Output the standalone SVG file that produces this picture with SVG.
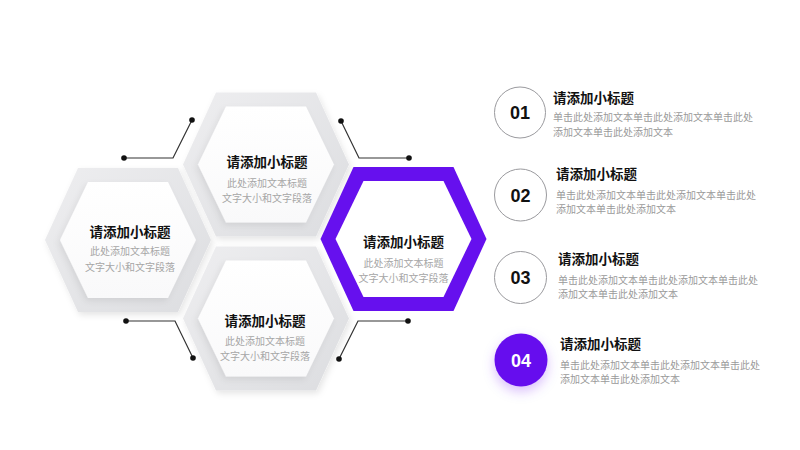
<svg xmlns="http://www.w3.org/2000/svg" xmlns:xlink="http://www.w3.org/1999/xlink" width="800" height="450" viewBox="0 0 800 450">
  <defs>
    <linearGradient id="ringGrad" x1="0" y1="0" x2="1" y2="1">
      <stop offset="0" stop-color="#eeeef0"/>
      <stop offset="1" stop-color="#dcdde0"/>
    </linearGradient>
    <linearGradient id="innerGrad" x1="0" y1="0" x2="0" y2="1">
      <stop offset="0" stop-color="#ffffff"/>
      <stop offset="1" stop-color="#f9f9fa"/>
    </linearGradient>
    <filter id="hexShadow" x="-20%" y="-20%" width="140%" height="140%">
      <feDropShadow dx="2" dy="3" stdDeviation="3" flood-color="#000" flood-opacity="0.10"/>
    </filter>
    <filter id="innerShadow" x="-20%" y="-20%" width="140%" height="140%">
      <feDropShadow dx="-2" dy="3" stdDeviation="3" flood-color="#000" flood-opacity="0.08"/>
    </filter>
    <filter id="glow" x="-60%" y="-60%" width="220%" height="220%">
      <feDropShadow dx="0" dy="5" stdDeviation="6" flood-color="#6610ee" flood-opacity="0.25"/>
    </filter>
    <path id="hexOuter" d="M-83,0 L-50,-72 L50,-72 L83,0 L50,72 L-50,72 Z"/>
    <path id="hexInner" d="M-68,0 L-40,-58 L40,-58 L68,0 L40,58 L-40,58 Z"/>
    <style>
      .cjk { font-family: "Noto Sans CJK SC", "Noto Sans", sans-serif; }
      .htitle { font-size: 13.5px; font-weight: bold; fill: #111; text-anchor: middle; }
      .hsub { font-size: 10px; fill: #a6a6a6; text-anchor: middle; }
      .ltitle { font-size: 13.5px; font-weight: bold; fill: #111; }
      .ldesc { font-size: 10px; fill: #9a9a9a; }
      .num { font-family: "Liberation Sans", Arial, sans-serif; font-size: 18px; font-weight: bold; fill: #111; text-anchor: middle; }
      .ring { fill: url(#ringGrad); filter: url(#hexShadow); }
      .inner { fill: url(#innerGrad); filter: url(#innerShadow); }
      .circ { fill: #fff; stroke: #9a9a9e; stroke-width: 1; }
      .conn { fill: none; stroke: #333; stroke-width: 1.2; }
      .dot { fill: #111; }
    </style>
  </defs>

  <rect width="800" height="450" fill="#ffffff"/>

  <g id="connectors">
    <polyline class="conn" points="124,158 173,158 192,120"/>
    <circle class="dot" cx="124" cy="158" r="2.8"/>
    <circle class="dot" cx="192" cy="120" r="2.8"/>
    <polyline class="conn" points="341,121 359,158 409,158"/>
    <circle class="dot" cx="341" cy="121" r="2.8"/>
    <circle class="dot" cx="409" cy="158" r="2.8"/>
    <polyline class="conn" points="126,321 175,321 193,358"/>
    <circle class="dot" cx="126" cy="321" r="2.8"/>
    <circle class="dot" cx="193" cy="358" r="2.8"/>
    <polyline class="conn" points="408,321 358,321 339,359"/>
    <circle class="dot" cx="408" cy="321" r="2.8"/>
    <circle class="dot" cx="339" cy="359" r="2.8"/>
  </g>

  <g id="hex-left" transform="translate(128,240)">
    <use xlink:href="#hexOuter" href="#hexOuter" class="ring"/>
    <use xlink:href="#hexInner" href="#hexInner" class="inner"/>
    <text class="cjk htitle" x="2" y="-3">请添加小标题</text>
    <text class="cjk hsub" x="2" y="14.7">此处添加文本标题</text>
    <text class="cjk hsub" x="2" y="30.7">文字大小和文字段落</text>
  </g>

  <g id="hex-top" transform="translate(266,164.5)">
    <use xlink:href="#hexOuter" href="#hexOuter" class="ring"/>
    <use xlink:href="#hexInner" href="#hexInner" class="inner"/>
    <text class="cjk htitle" x="1" y="2.5">请添加小标题</text>
    <text class="cjk hsub" x="1" y="22.2">此处添加文本标题</text>
    <text class="cjk hsub" x="1" y="37.2">文字大小和文字段落</text>
  </g>

  <g id="hex-bottom" transform="translate(266,318.5)">
    <use xlink:href="#hexOuter" href="#hexOuter" class="ring"/>
    <use xlink:href="#hexInner" href="#hexInner" class="inner"/>
    <text class="cjk htitle" x="-1" y="7.5">请添加小标题</text>
    <text class="cjk hsub" x="-1" y="26.7">此处添加文本标题</text>
    <text class="cjk hsub" x="-1" y="41.7">文字大小和文字段落</text>
  </g>

  <g id="hex-purple" transform="translate(403.5,239)">
    <use xlink:href="#hexOuter" href="#hexOuter" fill="#6610ee"/>
    <use xlink:href="#hexInner" href="#hexInner" fill="#ffffff"/>
    <text class="cjk htitle" x="0" y="8">请添加小标题</text>
    <text class="cjk hsub" x="0" y="27.7">此处添加文本标题</text>
    <text class="cjk hsub" x="0" y="42.7">文字大小和文字段落</text>
  </g>

  <g id="item-01">
    <circle class="circ" cx="520" cy="112.5" r="25.5"/>
    <text class="num" x="520" y="119">01</text>
    <text class="cjk ltitle" x="553" y="102.5">请添加小标题</text>
    <text class="cjk ldesc" x="553" y="121">单击此处添加文本单击此处添加文本单击此处</text>
    <text class="cjk ldesc" x="553" y="135.5">添加文本单击此处添加文本</text>
  </g>

  <g id="item-02">
    <circle class="circ" cx="520.5" cy="195" r="26"/>
    <text class="num" x="520.5" y="201.5">02</text>
    <text class="cjk ltitle" x="556" y="179">请添加小标题</text>
    <text class="cjk ldesc" x="556" y="198.5">单击此处添加文本单击此处添加文本单击此处</text>
    <text class="cjk ldesc" x="556" y="213">添加文本单击此处添加文本</text>
  </g>

  <g id="item-03">
    <circle class="circ" cx="520.5" cy="277.5" r="26"/>
    <text class="num" x="520.5" y="284">03</text>
    <text class="cjk ltitle" x="558" y="264">请添加小标题</text>
    <text class="cjk ldesc" x="558" y="283.5">单击此处添加文本单击此处添加文本单击此处</text>
    <text class="cjk ldesc" x="558" y="298">添加文本单击此处添加文本</text>
  </g>

  <g id="item-04">
    <circle cx="521" cy="360" r="26.5" fill="#6610ee" filter="url(#glow)"/>
    <text class="num" x="521" y="366.5" style="fill:#ffffff">04</text>
    <text class="cjk ltitle" x="560" y="349">请添加小标题</text>
    <text class="cjk ldesc" x="560" y="368.5">单击此处添加文本单击此处添加文本单击此处</text>
    <text class="cjk ldesc" x="560" y="383">添加文本单击此处添加文本</text>
  </g>
</svg>
